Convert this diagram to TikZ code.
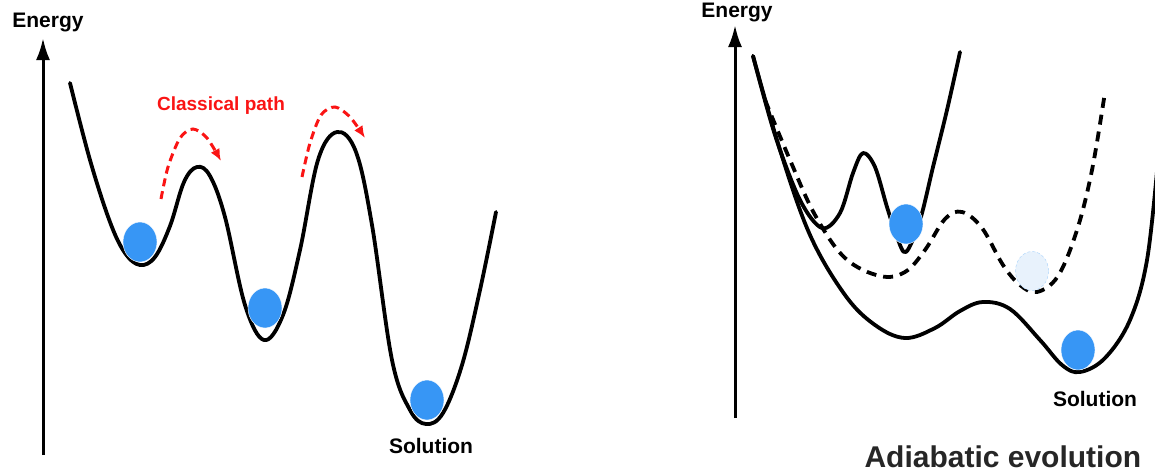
\documentclass[tikz,border=0pt]{standalone}
\usepackage{fontspec}
\setmainfont{Liberation Sans}
\usepackage{xcolor}
\usepackage{tikz}
\usetikzlibrary{shapes.geometric, arrows.meta, positioning}
\definecolor{ballblue}{RGB}{55, 150, 245}
\definecolor{paleblue}{RGB}{232, 242, 252}
\definecolor{pathred}{RGB}{250, 20, 20}

\begin{document}
\begin{tikzpicture}[x=1pt, y=-1pt,
        curve/.style={draw, line width=3.8pt, line join=round, line cap=round},
        dashcurve/.style={draw, line width=3.8pt, dash pattern=on 10pt off 7pt},
        axis/.style={draw, line width=3pt, -{Latex[length=22pt, width=14pt]}},
        redpath/.style={draw=pathred, line width=3pt, dash pattern=on 8pt off 5pt, -{Latex[length=12pt, width=10pt]}},
        ball/.style={ellipse, fill=ballblue, draw=white, thin, minimum width=34pt, minimum height=40pt, inner sep=0pt},
        ghost/.style={ellipse, fill=paleblue, draw=ballblue!45, densely dashed, thin, minimum width=33pt, minimum height=39pt, inner sep=0pt},
        axislabel/.style={font=\fontsize{21}{25}\selectfont\bfseries}]

        \useasboundingbox (0,0) rectangle (1155,475);
        \clip (0,0) rectangle (1155,475);

        % Left landscape
        \coordinate (lbottom) at (43,455);
        \coordinate (ltop) at (43,38);
        \path [axis] (lbottom) -- (ltop);
        \node [axislabel] (lenergy) at (48,22) {Energy};

        \path [curve] plot [smooth, tension=0.6] coordinates {(70,83) (90,160) (110,222) (125,253) (140,265)
            (155,257) (170,226) (184,182) (197,167) (210,176) (225,217) (245,305) (264,340) (283,315)
            (300,250) (318,160) (337,132) (356,152) (372,225) (392,360) (410,410) (426,424) (443,413)
            (462,365) (480,290) (496,212)};

        \node [ball] (lball1) at (140,242) {};
        \node [ball] (lball2) at (265,308) {};
        \node [ball] (lball3) at (427,400) {};

        % Classical path
        \path [redpath] plot [smooth] coordinates {(161,199) (168,167) (180,138) (193,129) (207,138) (221,161)};
        \path [redpath] plot [smooth] coordinates {(302,177) (310,143) (321,115) (335,107) (350,117) (365,138)};
        \node [text=pathred, font=\fontsize{19}{23}\selectfont\bfseries] (classical) at (221,106) {Classical path};

        \node [axislabel, below=15pt of lball3, xshift=4pt] (lsolution) {Solution};

        % Right landscape
        \coordinate (rbottom) at (735,418);
        \coordinate (rtop) at (735,25);
        \path [axis] (rbottom) -- (rtop);
        \node [axislabel] (renergy) at (737,12) {Energy};

        \path [curve] plot [smooth, tension=0.55] coordinates {(753,56) (775,135) (800,200) (822,228)
            (840,213) (853,173) (863,153) (875,167) (887,207) (897,237) (906,252) (920,220) (933,167)
            (947,110) (960,52)};
        \path [curve] plot [smooth, tension=0.6] coordinates {(753,56) (780,150) (810,235) (845,295)
            (875,325) (905,338) (935,328) (960,311) (983,302) (1010,309) (1040,340) (1062,365)
            (1080,372) (1105,358) (1130,320) (1147,260) (1158,160)};
        \path [dashcurve] plot [smooth, tension=0.6] coordinates {(765,100) (790,160) (815,215) (845,258)
            (880,276) (905,272) (925,250) (945,219) (962,212) (982,228) (1003,265) (1020,285)
            (1037,292) (1058,276) (1077,230) (1092,170) (1105,92)};

        \node [ball] (rball1) at (906,224) {};
        \node [ghost] (rghost) at (1032,271) {};
        \node [ball] (rball2) at (1078,350) {};

        \node [axislabel, below=18pt of rball2, xshift=17pt] (rsolution) {Solution};
        \node [anchor=west, text=black!85, font=\fontsize{30}{34}\selectfont\bfseries] (adiabatic) at (861,457) {Adiabatic evolution};
    \end{tikzpicture}
\end{document}
